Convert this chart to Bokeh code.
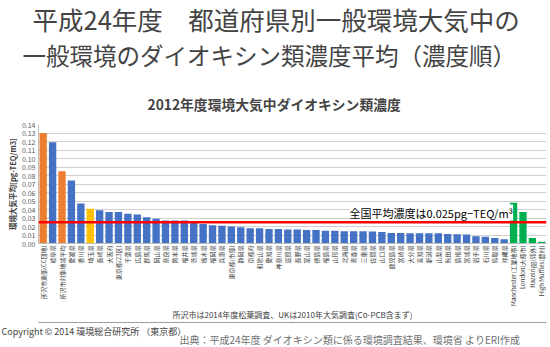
from math import pi
from bokeh.plotting import figure
from bokeh.models import (FactorRange, Range1d, Span, Label, NumeralTickFormatter, ColumnDataSource,
                          Title, CategoricalAxis)
from bokeh.transform import factor_cmap
from bokeh.embed import file_html
from bokeh.resources import INLINE

# ---- data ----
labels = [
    "所沢市東部(CC団地)", "岐阜県", "所沢市対象地域平均", "愛媛県", "香川県", "埼玉県", "長崎県", "大阪府",
    "東京都(23区)", "千葉県", "広島県", "群馬県", "岡山県", "奈良県", "熊本県", "福井県", "茨城県", "栃木県",
    "福岡県", "兵庫県", "東京都(市部)", "静岡県", "京都府", "和歌山県", "愛知県", "神奈川県", "滋賀県",
    "長野県", "富山県", "徳島県", "福島県", "山形県", "北海道", "青森県", "三重県", "佐賀県", "山口県",
    "鹿児島県", "宮崎県", "大分県", "高知県", "新潟県", "山梨県", "秋田県", "島根県", "宮城県", "岩手県",
    "石川県", "鳥取県", "沖縄県",
    "Manchester(工業地帯)", "London(大都市)", "Hazelrigg(郊外)", "High Muffles(農村)",
]
values = [
    0.130, 0.119, 0.085, 0.074, 0.047, 0.041, 0.039, 0.037,
    0.037, 0.035, 0.034, 0.031, 0.029, 0.027, 0.027, 0.027, 0.024, 0.023,
    0.0215, 0.021, 0.020, 0.019, 0.018, 0.018, 0.017, 0.017, 0.0165,
    0.0165, 0.016, 0.016, 0.015, 0.015, 0.0145, 0.0145, 0.0145, 0.014, 0.0135,
    0.0125, 0.0125, 0.012, 0.012, 0.012, 0.012, 0.0113, 0.011, 0.0106, 0.0086,
    0.0078, 0.0066, 0.0051,
    0.048, 0.037, 0.0066, 0.002,
]
groups = (["所沢", "県", "所沢", "県", "県", "埼玉"] + ["県"] * 44 + ["UK"] * 4)
group_names = ["所沢", "県", "埼玉", "UK"]
group_colors = ["#ED7D31", "#4472C4", "#FFC000", "#00B050"]
national_avg = 0.025
y_ticks = [0.00, 0.01, 0.02, 0.03, 0.04, 0.05, 0.06, 0.07, 0.08, 0.09, 0.10, 0.11, 0.12, 0.13, 0.14]

title1 = "平成24年度\u3000都道府県別一般環境大気中の"
title2 = "一般環境のダイオキシン類濃度平均（濃度順）"
chart_title = "2012年度環境大気中ダイオキシン類濃度"
y_label = "環境大気平均[pg-TEQ/m3]"
avg_text = f"全国平均濃度は{national_avg}pg\u2212TEQ/m\u00b3"
note = "所沢市は2014年度松葉調査、UKは2010年大気調査(Co-PCB含まず)"
copyright_text = "Copyright \u00a9  2014 環境総合研究所 （東京都）"
source_text = "出典：平成24年度 ダイオキシン類に係る環境調査結果、環境省  よりERI作成"

FONT = "Noto Sans CJK JP"
W, H = 550, 347
FL, FR, FT, FB = 38, 546, 124, 243

src = ColumnDataSource(dict(label=labels, value=values, group=groups))
p = figure(width=W, height=H,
           x_range=FactorRange(factors=labels, range_padding=0),
           y_range=Range1d(0, 0.14),
           output_backend="svg", toolbar_location=None,
           min_border_left=FL, min_border_right=W - FR,
           min_border_top=FT, min_border_bottom=H - FB)
p.outline_line_color = None

p.vbar(x="label", top="value", width=0.78, source=src,
       fill_color=factor_cmap("group", group_colors, group_names), line_color=None)

p.add_layout(Span(location=national_avg, dimension="width", line_color="#FF0000", line_width=2.5))

# y axis
p.yaxis.ticker = y_ticks
p.yaxis.formatter = NumeralTickFormatter(format="0.00")
p.yaxis.major_tick_line_color = None
p.yaxis.minor_tick_line_color = None
p.yaxis.major_tick_out = 0
p.yaxis.major_tick_in = 0
p.yaxis.axis_line_color = "#BFBFBF"
p.yaxis.major_label_text_font_size = "7px"
p.yaxis.major_label_text_color = "#595959"
p.yaxis.major_label_text_font = FONT
p.yaxis.major_label_standoff = 3
p.yaxis.axis_label = y_label
p.yaxis.axis_label_text_font = FONT
p.yaxis.axis_label_text_font_size = "7.5px"
p.yaxis.axis_label_text_font_style = "bold"
p.yaxis.axis_label_text_color = "#404040"
p.yaxis.axis_label_standoff = 1

# x axis (note as its label)
p.xaxis.major_label_orientation = pi / 2
p.xaxis.major_label_text_font_size = "6px"
p.xaxis.major_label_text_font = FONT
p.xaxis.major_label_text_color = "#404040"
p.xaxis.major_tick_line_color = None
p.xaxis.minor_tick_line_color = None
p.xaxis.major_tick_out = 0
p.xaxis.major_tick_in = 0
p.xaxis.axis_line_color = "#BFBFBF"
p.xaxis.major_label_standoff = 2
p.xaxis.axis_label = note
p.xaxis.axis_label_text_font = FONT
p.xaxis.axis_label_text_font_size = "8px"
p.xaxis.axis_label_text_font_style = "normal"
p.xaxis.axis_label_text_color = "#404040"
p.xaxis.axis_label_standoff = 0

p.xgrid.grid_line_color = None
p.ygrid.ticker = y_ticks
p.ygrid.grid_line_color = "#D0D0D0"

# red line annotation (inside the plot area)
p.add_layout(Label(x=349 - FL, y=FB - 212, x_units="screen", y_units="screen", text=avg_text,
                   text_font=FONT, text_font_size="11px", text_color="black",
                   text_align="left", text_baseline="middle",
                   background_fill_color="white", background_fill_alpha=1.0))

# separator rule under the chart: an empty categorical axis used only for its line
p.extra_x_ranges = {"rule": FactorRange(factors=["rule"])}
rule = CategoricalAxis(x_range_name="rule", major_label_overrides={"rule": ""},
                       major_label_text_font_size="1px", major_label_standoff=0,
                       major_tick_out=0, major_tick_in=0, axis_label_standoff=0,
                       major_tick_line_color=None, minor_tick_line_color=None,
                       axis_line_color="#A0A0A0", axis_line_width=1.2)
p.add_layout(rule, "below")

# titles above (first added is closest to the plot)
p.add_layout(Title(text=chart_title, text_font=FONT, text_font_size="13.8px", text_font_style="bold",
                   align="left", offset=147 - FL, standoff=22), "above")
p.add_layout(Title(text=title2, text_font=FONT, text_font_size="23.5px", text_font_style="normal",
                   align="left", offset=22 - FL, standoff=18), "above")
p.add_layout(Title(text=title1, text_font=FONT, text_font_size="25.5px", text_font_style="normal",
                   align="left", offset=32 - FL, standoff=-20), "above")

# footer texts below
p.add_layout(Title(text=copyright_text, text_font=FONT, text_font_size="9px", text_font_style="normal",
                   align="left", offset=1 - FL, standoff=-8), "below")
p.add_layout(Title(text=source_text, text_font=FONT, text_font_size="10px", text_font_style="normal",
                   text_color="#707070", align="left", offset=179 - FL, standoff=-8), "below")

open("out.html", "w").write(file_html(p, INLINE))
